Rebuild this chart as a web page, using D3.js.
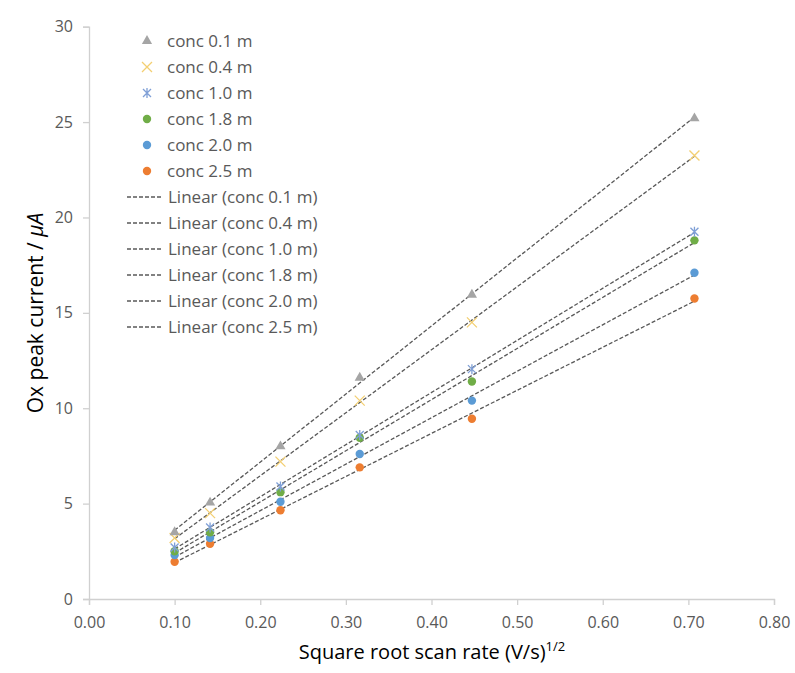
<!DOCTYPE html>
<html>
<head>
<meta charset="utf-8">
<script src="https://cdn.jsdelivr.net/npm/d3@7"></script>
<style>
  body { margin: 0; background: #fff; }
  text { font-family: "Open Sans", "Liberation Sans", sans-serif; }
</style>
</head>
<body>
<script>
// datos: raiz de la velocidad de barrido y corriente de pico
var raizVelocidad = [0.1, 0.1414, 0.2236, 0.3162, 0.4472, 0.7071];
var conc01 = [3.5, 5.05, 8.0, 11.6, 15.95, 25.2];
var conc04 = [3.2, 4.5, 7.2, 10.4, 14.5, 23.25];
var conc10 = [2.7, 3.75, 5.9, 8.6, 12.05, 19.25];
var conc18 = [2.5, 3.5, 5.6, 8.45, 11.4, 18.8];
var conc20 = [2.3, 3.2, 5.1, 7.6, 10.4, 17.1];
var conc25 = [1.95, 2.9, 4.65, 6.9, 9.45, 15.75];
var nombres = ["conc 0.1 m", "conc 0.4 m", "conc 1.0 m", "conc 1.8 m", "conc 2.0 m", "conc 2.5 m"];
var ticksX = [0, 0.1, 0.2, 0.3, 0.4, 0.5, 0.6, 0.7, 0.8];
var ticksY = [0, 5, 10, 15, 20, 25, 30];

var ancho = 795, alto = 673;
var series = [
  {nombre: nombres[0], valores: conc01, simbolo: "triangulo", color: "#a5a5a5"},
  {nombre: nombres[1], valores: conc04, simbolo: "cruz", color: "#f3cf72"},
  {nombre: nombres[2], valores: conc10, simbolo: "asterisco", color: "#7f9fd6"},
  {nombre: nombres[3], valores: conc18, simbolo: "circulo", color: "#70ad47"},
  {nombre: nombres[4], valores: conc20, simbolo: "circulo", color: "#5b9bd5"},
  {nombre: nombres[5], valores: conc25, simbolo: "circulo", color: "#ed7d31"}
];

var svg = d3.select("body").append("svg")
  .attr("width", ancho).attr("height", alto);

var x = d3.scaleLinear().domain([0, 0.8]).range([89, 774]);
var y = d3.scaleLinear().domain([0, 30]).range([599, 26.7]);

// ejes
var ejeX = svg.append("g").attr("transform", "translate(0," + y(0) + ")")
  .call(d3.axisBottom(x).tickValues(ticksX).tickFormat(d3.format(".2f")).tickSize(6).tickPadding(12));
var ejeY = svg.append("g").attr("transform", "translate(" + x(0) + ",0)")
  .call(d3.axisLeft(y).tickValues(ticksY).tickSize(6).tickPadding(10));
[ejeX, ejeY].forEach(function(g) {
  g.select(".domain").attr("stroke", "#d0d0d0").attr("stroke-width", 1.3);
  g.selectAll(".tick line").attr("stroke", "#d0d0d0").attr("stroke-width", 1.3);
  g.selectAll(".tick text").attr("fill", "#595959").style("font-size", "16px")
    .style("font-family", "'Open Sans', sans-serif");
});

// titulos
svg.append("text").attr("x", 432).attr("y", 659).attr("text-anchor", "middle")
  .attr("fill", "#000").style("font-size", "20px")
  .text("Square root scan rate (V/s)")
  .append("tspan").attr("dy", -8).style("font-size", "13px").text("1/2");
var tituloY = svg.append("text").attr("transform", "translate(43,313) rotate(-90)")
  .attr("text-anchor", "middle").attr("fill", "#000").style("font-size", "21px");
tituloY.append("tspan").text("Ox peak current / ");
tituloY.append("tspan").style("font-style", "italic").text("\u03bcA");

// regresion lineal
function regresion(xs, ys) {
  var mx = d3.mean(xs), my = d3.mean(ys);
  var num = d3.sum(xs, function(v, i) { return (v - mx) * (ys[i] - my); });
  var den = d3.sum(xs, function(v) { return (v - mx) * (v - mx); });
  var m = num / den;
  return {m: m, b: my - m * mx};
}

var xMin = d3.min(raizVelocidad), xMax = d3.max(raizVelocidad);
series.forEach(function(s) {
  var r = regresion(raizVelocidad, s.valores);
  svg.append("line")
    .attr("x1", x(xMin)).attr("y1", y(r.m * xMin + r.b))
    .attr("x2", x(xMax)).attr("y2", y(r.m * xMax + r.b))
    .attr("stroke", "#595959").attr("stroke-width", 1.3)
    .attr("stroke-dasharray", "4,2");
});

// dibuja un marcador
function marcador(g, simbolo, color, cx, cy) {
  if (simbolo === "triangulo") {
    g.append("path").attr("d", d3.symbol(d3.symbolTriangle, 45)())
      .attr("transform", "translate(" + cx + "," + cy + ")").attr("fill", color);
  } else if (simbolo === "cruz") {
    g.append("path").attr("d", "M-5,-5L5,5M-5,5L5,-5")
      .attr("transform", "translate(" + cx + "," + cy + ")")
      .attr("stroke", color).attr("stroke-width", 1.3).attr("fill", "none");
  } else if (simbolo === "asterisco") {
    g.append("path").attr("d", "M-4,-4L4,4M-4,4L4,-4M0,-5L0,5")
      .attr("transform", "translate(" + cx + "," + cy + ")")
      .attr("stroke", color).attr("stroke-width", 1.3).attr("fill", "none");
  } else {
    g.append("circle").attr("cx", cx).attr("cy", cy).attr("r", 4.2).attr("fill", color);
  }
}

// puntos
series.slice().reverse().forEach(function(s) {
  var g = svg.append("g");
  s.valores.forEach(function(v, i) {
    marcador(g, s.simbolo, s.color, x(raizVelocidad[i]), y(v));
  });
});

// leyenda
var leyenda = svg.append("g");
var filasY = d3.scaleLinear().domain([0, 11]).range([41, 327]);
series.forEach(function(s, i) {
  marcador(leyenda, s.simbolo, s.color, 147, filasY(i));
  leyenda.append("text").attr("x", 167).attr("y", filasY(i) + 6)
    .attr("fill", "#595959").style("font-size", "17px").text(s.nombre);
});
series.forEach(function(s, i) {
  var fy = filasY(i + 6);
  leyenda.append("line").attr("x1", 127).attr("x2", 163).attr("y1", fy).attr("y2", fy)
    .attr("stroke", "#595959").attr("stroke-width", 1.3).attr("stroke-dasharray", "4,2");
  leyenda.append("text").attr("x", 168).attr("y", fy + 6)
    .attr("fill", "#595959").style("font-size", "17px").text("Linear (" + s.nombre + ")");
});
</script>
</body>
</html>
